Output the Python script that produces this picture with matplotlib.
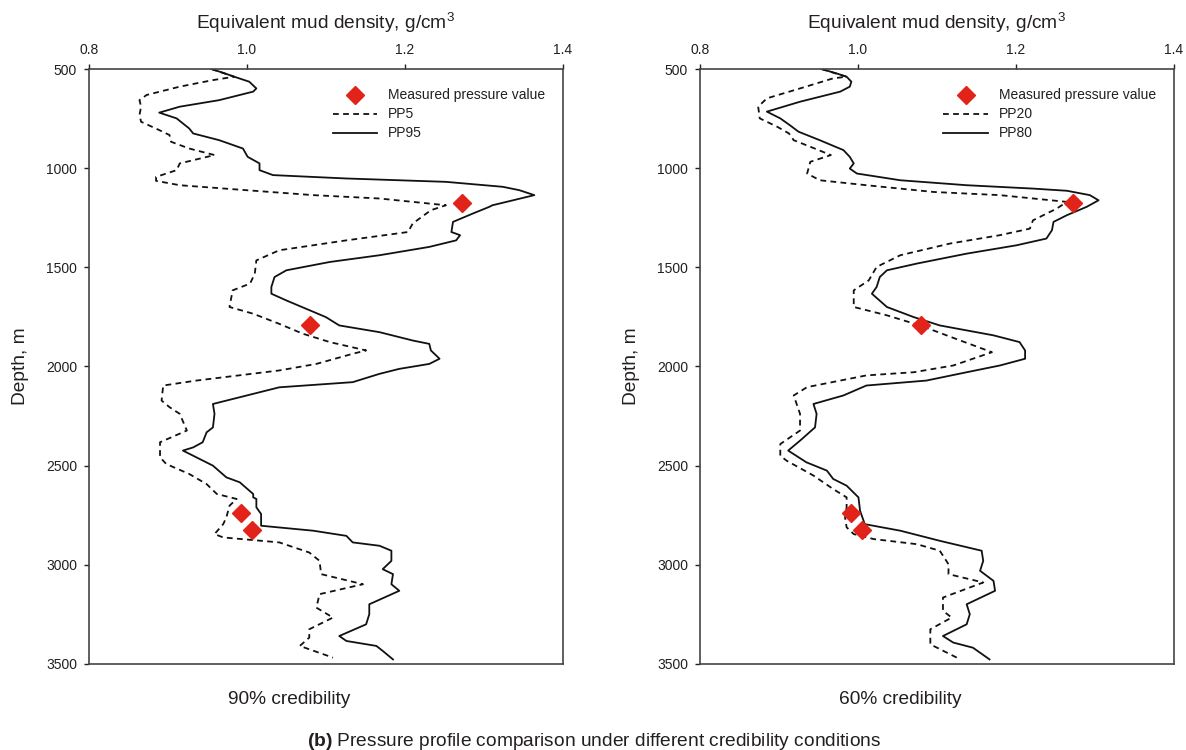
import matplotlib.pyplot as plt

plt.rcParams['font.family'] = ['Liberation Sans', 'DejaVu Sans']
plt.rcParams['mathtext.fontset'] = 'custom'
plt.rcParams['mathtext.rm'] = 'Liberation Sans'
plt.rcParams['mathtext.bf'] = 'Liberation Sans:bold'

# 90% credibility: PP5 (lower) and PP95 (upper) profiles
pp5_depth = [500, 539, 556, 589, 631, 657, 690, 732, 766, 808, 833, 867, 901, 934,
             976, 1010, 1044, 1064, 1086, 1111, 1136, 1153, 1187, 1212, 1279, 1322,
             1364, 1414, 1465, 1532, 1582, 1616, 1700, 1734, 1785, 1835, 1877, 1919,
             1936, 1987, 2020, 2071, 2096, 2172, 2205, 2239, 2323, 2382, 2458, 2492,
             2542, 2593, 2643, 2668, 2702, 2761, 2795, 2845, 2862, 2887, 2938, 2980,
             3047, 3098, 3148, 3216, 3266, 3325, 3367, 3409, 3468]
pp5_density = [0.955, 0.984, 0.957, 0.915, 0.873, 0.864, 0.866, 0.864, 0.866, 0.889,
               0.902, 0.904, 0.927, 0.959, 0.915, 0.911, 0.885, 0.885, 0.915, 0.999,
               1.084, 1.168, 1.252, 1.233, 1.210, 1.204, 1.126, 1.041, 1.012, 1.010,
               1.004, 0.982, 0.978, 1.008, 1.041, 1.071, 1.105, 1.151, 1.134, 1.088,
               1.041, 0.936, 0.894, 0.892, 0.902, 0.915, 0.924, 0.890, 0.890, 0.898,
               0.927, 0.949, 0.962, 0.987, 0.978, 0.974, 0.970, 0.959, 0.970, 1.041,
               1.079, 1.092, 1.094, 1.147, 1.092, 1.088, 1.109, 1.079, 1.079, 1.067,
               1.109]

pp95_depth = [500, 522, 539, 564, 598, 614, 657, 690, 720, 749, 800, 825, 859, 901,
              943, 976, 1010, 1035, 1052, 1069, 1094, 1111, 1136, 1162, 1187, 1195,
              1229, 1271, 1322, 1338, 1364, 1397, 1439, 1473, 1515, 1549, 1599, 1633,
              1667, 1709, 1751, 1793, 1827, 1869, 1886, 1919, 1961, 1987, 2012, 2037,
              2079, 2105, 2138, 2189, 2239, 2307, 2332, 2382, 2408, 2424, 2458, 2500,
              2559, 2584, 2643, 2660, 2668, 2710, 2744, 2803, 2828, 2854, 2887, 2904,
              2929, 2980, 3022, 3047, 3098, 3131, 3199, 3249, 3300, 3359, 3384, 3409,
              3434, 3477]
pp95_density = [0.955, 0.972, 0.984, 1.003, 1.012, 1.008, 0.965, 0.915, 0.889, 0.911,
                0.927, 0.932, 0.965, 0.995, 1.001, 1.016, 1.016, 1.033, 1.126, 1.252,
                1.324, 1.345, 1.364, 1.337, 1.311, 1.307, 1.286, 1.261, 1.259, 1.270,
                1.265, 1.231, 1.168, 1.105, 1.050, 1.035, 1.031, 1.031, 1.050, 1.075,
                1.100, 1.117, 1.168, 1.210, 1.231, 1.233, 1.244, 1.231, 1.193, 1.168,
                1.134, 1.041, 1.008, 0.957, 0.959, 0.957, 0.949, 0.944, 0.932, 0.919,
                0.936, 0.957, 0.974, 0.991, 1.008, 1.008, 1.012, 1.012, 1.018, 1.018,
                1.084, 1.126, 1.134, 1.168, 1.183, 1.183, 1.172, 1.185, 1.183, 1.193,
                1.155, 1.155, 1.151, 1.117, 1.126, 1.164, 1.172, 1.185]

# 60% credibility: PP20 (lower) and PP80 (upper) profiles
pp20_depth = [500, 539, 547, 598, 648, 690, 749, 791, 825, 859, 892, 934, 968, 1027,
              1061, 1086, 1120, 1136, 1170, 1204, 1263, 1305, 1338, 1380, 1439, 1498,
              1566, 1616, 1700, 1742, 1793, 1869, 1928, 1995, 2029, 2045, 2104, 2146,
              2239, 2323, 2391, 2450, 2475, 2550, 2618, 2660, 2710, 2761, 2811, 2845,
              2870, 2896, 2929, 2997, 3047, 3089, 3165, 3232, 3266, 3325, 3401, 3477]
pp20_density = [0.954, 0.986, 0.969, 0.927, 0.885, 0.874, 0.876, 0.898, 0.913, 0.919,
                0.940, 0.966, 0.940, 0.936, 0.952, 1.011, 1.096, 1.180, 1.265, 1.252,
                1.222, 1.218, 1.180, 1.117, 1.054, 1.024, 1.014, 0.995, 0.995, 1.037,
                1.079, 1.130, 1.170, 1.121, 1.071, 1.011, 0.936, 0.919, 0.927, 0.927,
                0.902, 0.902, 0.910, 0.944, 0.969, 0.986, 0.986, 0.984, 0.986, 0.995,
                1.020, 1.075, 1.104, 1.115, 1.115, 1.159, 1.108, 1.108, 1.119, 1.092,
                1.092, 1.130]

pp80_depth = [500, 522, 539, 564, 589, 614, 665, 715, 749, 783, 816, 859, 909, 943,
              976, 1002, 1027, 1061, 1086, 1103, 1114, 1136, 1162, 1195, 1237, 1271,
              1313, 1355, 1389, 1431, 1481, 1515, 1549, 1599, 1633, 1700, 1751, 1793,
              1843, 1877, 1919, 1961, 1995, 2029, 2071, 2096, 2146, 2189, 2239, 2307,
              2374, 2424, 2483, 2525, 2567, 2601, 2660, 2727, 2795, 2828, 2879, 2929,
              2980, 3030, 3081, 3131, 3199, 3249, 3300, 3359, 3392, 3418, 3477]
pp80_density = [0.954, 0.973, 0.986, 0.992, 0.990, 0.978, 0.927, 0.885, 0.902, 0.914,
                0.925, 0.952, 0.982, 0.990, 0.995, 0.990, 0.999, 1.054, 1.138, 1.222,
                1.265, 1.294, 1.305, 1.290, 1.265, 1.248, 1.246, 1.239, 1.201, 1.138,
                1.075, 1.037, 1.028, 1.024, 1.018, 1.037, 1.071, 1.104, 1.172, 1.205,
                1.212, 1.212, 1.180, 1.138, 1.087, 1.011, 0.982, 0.944, 0.948, 0.946,
                0.927, 0.912, 0.935, 0.961, 0.969, 0.986, 1.001, 1.003, 1.009, 1.054,
                1.104, 1.157, 1.159, 1.155, 1.172, 1.174, 1.138, 1.142, 1.138, 1.108,
                1.121, 1.146, 1.167]

# Measured pressure points (same in both panels)
meas_depth = [1175, 1790, 2740, 2825]
meas_density = [1.273, 1.080, 0.992, 1.006]

x_ticks = [0.8, 1.0, 1.2, 1.4]
y_ticks = [500, 1000, 1500, 2000, 2500, 3000, 3500]

panels = [
    ('PP5', pp5_depth, pp5_density, 'PP95', pp95_depth, pp95_density, '90% credibility'),
    ('PP20', pp20_depth, pp20_density, 'PP80', pp80_depth, pp80_density, '60% credibility'),
]

text_color = '#231f20'
fig = plt.figure(figsize=(11.86, 7.5), dpi=100)
axes_left = [0.075, 0.590]
caption_x = [0.244, 0.759]

for i, (lo_name, lo_d, lo_x, hi_name, hi_d, hi_x, caption) in enumerate(panels):
    ax = fig.add_axes([axes_left[i], 0.1147, 0.3995, 0.7933])
    ax.plot(meas_density, meas_depth, linestyle='none', marker='D', markersize=9,
            color='#e2231a', label='Measured pressure value', zorder=3)
    ax.plot(lo_x, lo_d, color='#111111', linewidth=1.3, dashes=(3.2, 2.4), label=lo_name)
    ax.plot(hi_x, hi_d, color='#111111', linewidth=1.3, label=hi_name)

    ax.set_xlim(0.8, 1.4)
    ax.set_ylim(3500, 500)
    ax.set_xticks(x_ticks)
    ax.set_xticklabels([f'{t:.1f}' for t in x_ticks])
    ax.set_yticks(y_ticks)
    ax.xaxis.tick_top()
    ax.xaxis.set_label_position('top')
    ax.tick_params(axis='both', direction='out', length=3.5, width=1,
                   labelsize=10, colors=text_color, pad=5)
    for s in ax.spines.values():
        s.set_color('#444444')
        s.set_linewidth(1.2)

    ax.set_xlabel('Equivalent mud density, g/cm$^3$', fontsize=13.8,
                  color=text_color, labelpad=10)
    ax.set_ylabel('Depth, m', fontsize=13.8, color=text_color, labelpad=12)

    ax.legend(loc='upper right', frameon=False, fontsize=10, handlelength=3.2,
              labelspacing=0.36, borderaxespad=1.0, bbox_to_anchor=(1.004, 1.0),
              labelcolor=text_color)

    fig.text(caption_x[i], 0.0667, caption, ha='center', va='center',
             fontsize=13.8, color=text_color)

fig.text(0.501, 0.012, r'$\bf{(b)}$ Pressure profile comparison under different credibility conditions',
         ha='center', va='center', fontsize=13.8, color=text_color)

plt.savefig('out.png', dpi=100)
